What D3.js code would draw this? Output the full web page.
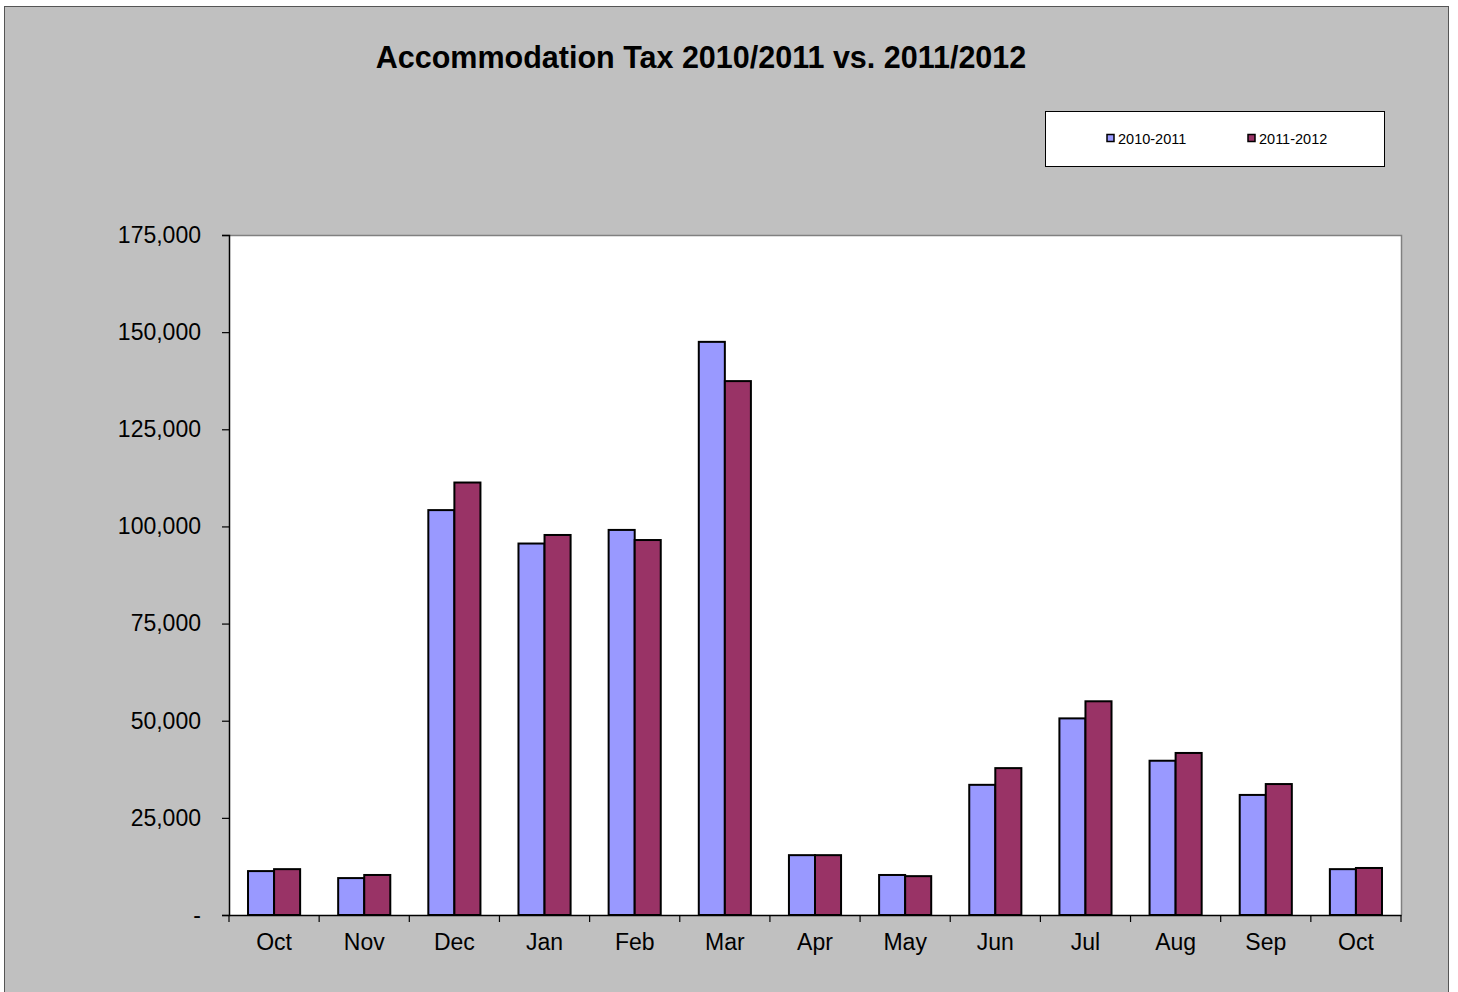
<!DOCTYPE html>
<html><head><meta charset="utf-8">
<script src="https://cdn.jsdelivr.net/npm/d3@7"></script>
<style>body{margin:0;background:#fff;}svg{display:block;font-family:"Liberation Sans",Arial,sans-serif;}</style>
</head><body>
<svg id="c" width="1458" height="992"></svg>
<script>
const months = ["Oct","Nov","Dec","Jan","Feb","Mar","Apr","May","Jun","Jul","Aug","Sep","Oct "];
const monthLabels = ["Oct","Nov","Dec","Jan","Feb","Mar","Apr","May","Jun","Jul","Aug","Sep","Oct"];
const series2010 = [11300, 9500, 104200, 95600, 99100, 147500, 15400, 10300, 33500, 50600, 39700, 30900, 11800];
const series2011 = [11800, 10300, 111300, 97800, 96500, 137400, 15400, 10000, 37800, 55000, 41700, 33700, 12100];
const seriesNames = ["2010-2011","2011-2012"];
const seriesColors = ["#9999ff","#993366"];
const yTicks = [0,25000,50000,75000,100000,125000,150000,175000];

const svg = d3.select("#c");
svg.append("rect").attr("x",4.5).attr("y",6.5).attr("width",1444).attr("height",990)
  .attr("fill","#c0c0c0").attr("stroke","#555").attr("stroke-width",1);

svg.append("text").attr("x",701).attr("y",68).attr("text-anchor","middle")
  .attr("font-size",30.5).attr("font-weight","bold").attr("fill","#000")
  .text("Accommodation Tax 2010/2011 vs. 2011/2012");

const L=229, R=1401, T=235, B=915;
svg.append("rect").attr("x",L).attr("y",T).attr("width",R-L).attr("height",B-T).attr("fill","#fff");
svg.append("path").attr("d",`M${L},${T+0.5}H${R+0.5}V${B}`).attr("fill","none").attr("stroke","#808080").attr("stroke-width",1.5);

const x = d3.scaleBand().domain(months).range([L,R]).paddingInner(0).paddingOuter(0);
const y = d3.scaleLinear().domain([0,175000]).range([B,T]);
const inner = d3.scaleBand().domain([0,1]).range([0,x.bandwidth()]).paddingInner(0).paddingOuter(0.73);

const data = [series2010, series2011];
months.forEach((m,i)=>{
  data.forEach((s,k)=>{
    svg.append("rect")
      .attr("x", x(m)+inner(k))
      .attr("y", y(s[i]))
      .attr("width", inner.bandwidth())
      .attr("height", y(0)-y(s[i]))
      .attr("fill", seriesColors[k]).attr("stroke","#000").attr("stroke-width",2);
  });
});

// Y axis
const ya = svg.append("g").attr("transform",`translate(${L},0)`)
  .call(d3.axisLeft(y).tickValues(yTicks).tickSize(7).tickPadding(21)
    .tickFormat(d=> d===0 ? "-" : d3.format(",")(d)));
ya.select(".domain").attr("stroke","#000").attr("stroke-width",1.5);
ya.selectAll(".tick line").attr("stroke","#000").attr("stroke-width",1.2);
ya.selectAll(".tick text").attr("font-size",23).attr("fill","#000").attr("font-family","Liberation Sans, Arial, sans-serif");

// X axis
const xa = svg.append("g").attr("transform",`translate(0,${B})`)
  .call(d3.axisBottom(x).tickSize(0).tickPadding(19).tickFormat((d,i)=>monthLabels[i]));
xa.select(".domain").attr("stroke","#000").attr("stroke-width",1.5);
xa.selectAll(".tick text").attr("font-size",23).attr("fill","#000").attr("font-family","Liberation Sans, Arial, sans-serif");
const bounds = months.map(m=>x(m)).concat([R]);
svg.append("g").selectAll("line").data(bounds).join("line")
  .attr("x1",d=>d).attr("x2",d=>d).attr("y1",B).attr("y2",B+7)
  .attr("stroke","#000").attr("stroke-width",1.2);

// Legend
svg.append("rect").attr("x",1045.5).attr("y",111.5).attr("width",339).attr("height",55)
  .attr("fill","#fff").attr("stroke","#000").attr("stroke-width",1);
const lx=[1107,1248];
seriesNames.forEach((n,k)=>{
  svg.append("rect").attr("x",lx[k]).attr("y",134.5).attr("width",7).attr("height",7)
    .attr("fill",seriesColors[k]).attr("stroke","#000").attr("stroke-width",1.5);
  svg.append("text").attr("x",lx[k]+11).attr("y",144).attr("font-size",14.5).attr("fill","#000").text(n);
});
</script>
</body></html>
